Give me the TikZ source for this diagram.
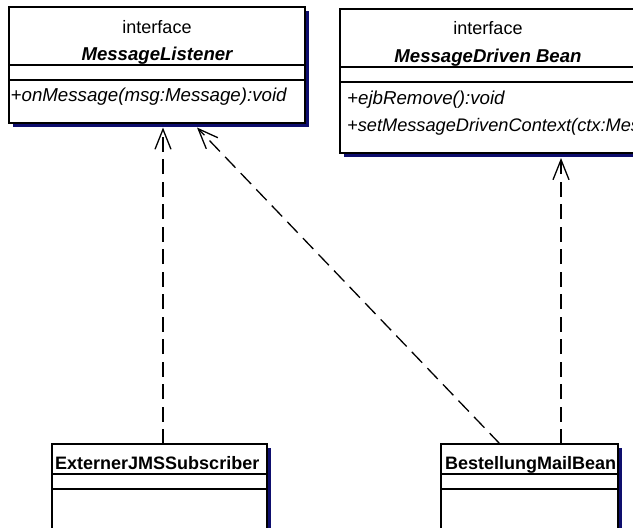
\documentclass[tikz,border=0pt]{standalone}
\usepackage{fontspec}
\setmainfont{Liberation Sans}
\usetikzlibrary{arrows.meta}
\definecolor{navy}{RGB}{14,14,110}
\begin{document}
\begin{tikzpicture}[x=1pt,y=-1pt,
  box/.style={draw=black, line width=1.2pt, fill=white, anchor=north west, inner sep=0pt, outer sep=0pt},
  shadowbox/.style={fill=navy},
  sepline/.style={draw=black, line width=1.2pt},
  lbl/.style={anchor=base, inner sep=0pt, font=\fontsize{18}{21}\selectfont},
  lblname/.style={anchor=base, inner sep=0pt, font=\fontsize{18.6}{21}\selectfont\bfseries\itshape},
  lblop/.style={anchor=base west, inner sep=0pt, font=\fontsize{18.7}{21}\selectfont\itshape},
  lblopb/.style={anchor=base west, inner sep=0pt, font=\fontsize{18.2}{21}\selectfont\itshape},
  lblcls/.style={anchor=base west, inner sep=0pt, font=\fontsize{18}{21}\selectfont\bfseries},
  dep/.style={draw=black, line width=1.3pt, dash pattern=on 15pt off 7.5pt,
    -{Straight Barb[length=20pt,width=16pt,line width=1.3pt]}}
]
\useasboundingbox (0,0) rectangle (633,528);
\clip (0,0) rectangle (633,528);
\fill[white] (0,0) rectangle (633,528);

% MessageListener
\fill[shadowbox] (13,11) rectangle (309,127);
\node[box, minimum width=296pt, minimum height=116pt] (ml) at (9,7) {};
\draw[sepline] (9,65) -- (305,65);
\draw[sepline] (9,80) -- (305,80);
\node[lbl] (mlst) at (157,33) {interface};
\node[lblname] (mlnm) at (157,60.5) {MessageListener};
\node[lblop] (mlop) at (10.5,101) {+onMessage(msg:Message):void};

% MessageDriven Bean
\fill[shadowbox] (344,13) rectangle (640,157);
\node[box, minimum width=296pt, minimum height=144pt] (mdb) at (340,9) {};
\draw[sepline] (340,67) -- (636,67);
\draw[sepline] (340,82) -- (636,82);
\node[lbl] (mdbst) at (488,34) {interface};
\node[lblname] (mdbnm) at (488,62) {MessageDriven Bean};
\node[lblop] (mdbop1) at (347,104) {+ejbRemove():void};
\node[lblopb] (mdbop2) at (347,131) {+setMessageDrivenContext(ctx:Mes};

% ExternerJMSSubscriber
\fill[shadowbox] (56,448) rectangle (271,548);
\node[box, minimum width=215pt, minimum height=100pt] (ext) at (52,444) {};
\draw[sepline] (52,474) -- (267,474);
\draw[sepline] (52,489) -- (267,489);
\node[lblcls] (extnm) at (55,469) {ExternerJMSSubscriber};

% BestellungMailBean
\fill[shadowbox] (445,448) rectangle (622,548);
\node[box, minimum width=177pt, minimum height=100pt] (bmb) at (441,444) {};
\draw[sepline] (441,474) -- (618,474);
\draw[sepline] (441,489) -- (618,489);
\node[lblcls] (bmbnm) at (445,469) {BestellungMailBean};

% connectors
\coordinate (xa) at (163,0);
\coordinate (xb) at (500,0);
\coordinate (xc) at (197,0);
\coordinate (xd) at (561,0);
\draw[dep] (ext.north -| xa) -- ([yshift=-4.5pt]ml.south -| xa);
\draw[dep] (bmb.north -| xb) -- ([yshift=-4.5pt]ml.south -| xc);
\draw[dep] (bmb.north -| xd) -- ([yshift=-5pt]mdb.south -| xd);
\end{tikzpicture}
\end{document}
